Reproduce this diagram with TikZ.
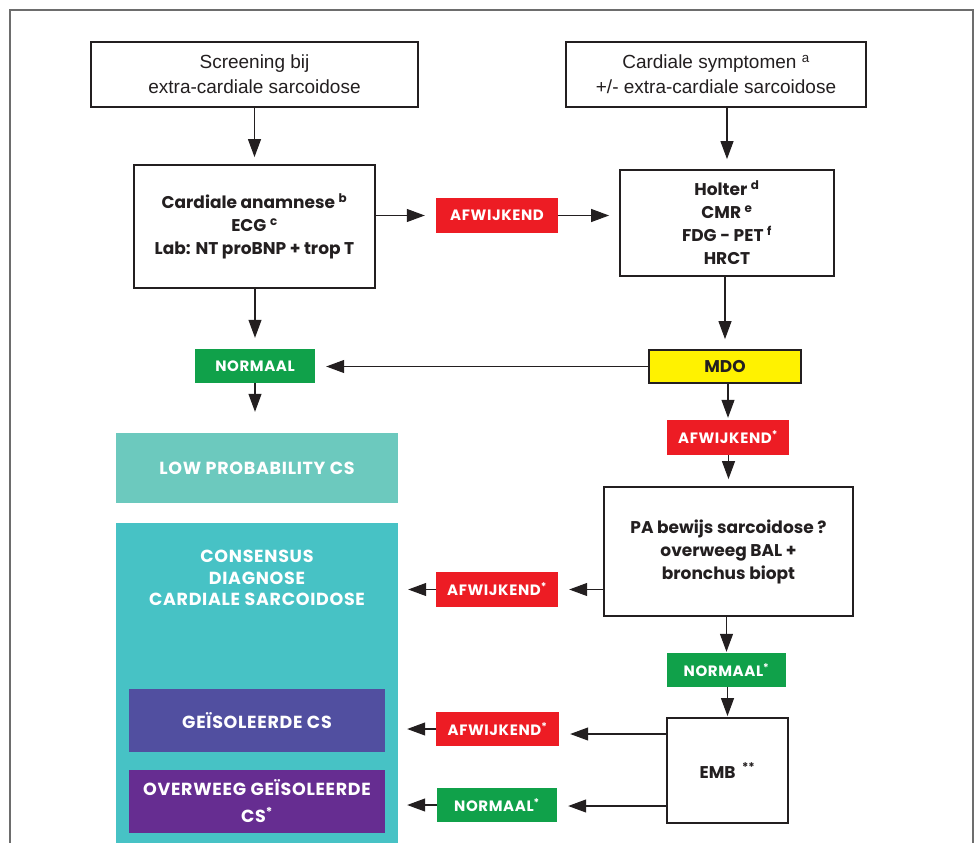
\documentclass[tikz,border=0pt]{standalone}
\usepackage{fontspec}
\setmainfont{Poppins}
\newfontfamily\condfont[FakeStretch=1.0]{Liberation Sans}
\newfontfamily\labfont[LetterSpace=4]{Poppins}
\usetikzlibrary{arrows.meta}
\definecolor{ink}{HTML}{231F20}
\definecolor{frame}{HTML}{6D6D6D}
\definecolor{lred}{HTML}{ED1C24}
\definecolor{lgreen}{HTML}{10A14A}
\definecolor{lyellow}{HTML}{FFF200}
\definecolor{lowteal}{HTML}{6CC9BE}
\definecolor{consteal}{HTML}{47C2C5}
\definecolor{geisblue}{HTML}{514FA0}
\definecolor{overpurple}{HTML}{662D91}
\tikzset{
  box/.style={draw=ink, line width=1.8pt, fill=white, align=center, inner sep=0pt, text=ink,
    font=\bfseries\fontsize{17}{23}\selectfont},
  topbox/.style={box, font=\condfont\fontsize{19}{25}\selectfont},
  tag/.style={inner sep=0pt, align=center, text=white, font=\labfont\bfseries\fontsize{15}{18}\selectfont},
  cat/.style={inner sep=0pt, align=center, text=white, font=\labfont\bfseries\fontsize{17.5}{21.5}\selectfont},
  arr/.style={draw=ink, line width=1.1pt, -{Triangle[length=18pt,width=13pt]}},
}
\begin{document}
\begin{tikzpicture}[x=1pt,y=-1pt]
\useasboundingbox (0,0) rectangle (980,843);
\draw[frame, line width=1.5pt] (10,843) -- (10,10) -- (973,10) -- (973,843);

% category boxes
\node[fill=lowteal, minimum width=282pt, minimum height=70pt, cat] (low) at (257,468) {LOW PROBABILITY CS};
\node[fill=consteal, minimum width=282pt, minimum height=320pt, inner sep=0pt] (cons) at (257,683) {};
\node[cat] (constext) at (257,578) {CONSENSUS\\DIAGNOSE\\CARDIALE SARCOIDOSE};
\node[fill=geisblue, minimum width=256pt, minimum height=63pt, cat] (geis) at (257,720.5) {GE\"ISOLEERDE CS};
\node[fill=overpurple, minimum width=256pt, minimum height=63pt, cat, font=\labfont\bfseries\fontsize{17.5}{27}\selectfont] (overw) at (257,801.5) {OVERWEEG GE\"ISOLEERDE\\CS\textsuperscript{*}};

% flow boxes
\node[topbox, minimum width=327pt, minimum height=65pt] (s1) at (254.5,74.5) {Screening bij\\extra-cardiale sarcoidose};
\node[topbox, minimum width=300pt, minimum height=65pt] (s2) at (716,74.5) {Cardiale symptomen \textsuperscript{a}\\+/- extra-cardiale sarcoidose};
\node[box, minimum width=241pt, minimum height=123pt] (anam) at (254.5,226.5) {Cardiale anamnese \textsuperscript{b}\\ECG \textsuperscript{c}\\Lab: NT proBNP + trop T};
\node[box, minimum width=214pt, minimum height=106pt] (tests) at (727,223) {Holter \textsuperscript{d}\\CMR \textsuperscript{e}\\FDG - PET \textsuperscript{f}\\HRCT};
\node[box, fill=lyellow, minimum width=152pt, minimum height=33pt] (mdo) at (725,366.5) {MDO};
\node[box, minimum width=249pt, minimum height=129pt] (pa) at (728.5,551.5) {PA bewijs sarcoidose ?\\overweeg BAL +\\bronchus biopt};
\node[box, minimum width=121pt, minimum height=105pt] (emb) at (727.5,770.5) {EMB \,\textsuperscript{**}};

% tags
\node[tag, fill=lred, minimum width=122pt, minimum height=35pt] (afw1) at (497,215.5) {AFWIJKEND};
\node[tag, fill=lgreen, minimum width=120pt, minimum height=34pt] (norm1) at (255,366) {NORMAAL};
\node[tag, fill=lred, minimum width=122pt, minimum height=35pt] (afw2) at (728,437.5) {AFWIJKEND\textsuperscript{*}};
\node[tag, fill=lred, minimum width=122pt, minimum height=35pt] (afw3) at (497,589.5) {AFWIJKEND\textsuperscript{*}};
\node[tag, fill=lgreen, minimum width=119pt, minimum height=34pt] (norm2) at (726.5,670) {NORMAAL\textsuperscript{*}};
\node[tag, fill=lred, minimum width=123pt, minimum height=34pt] (afw4) at (497.5,729) {AFWIJKEND\textsuperscript{*}};
\node[tag, fill=lgreen, minimum width=120pt, minimum height=34pt] (norm3) at (497,805) {NORMAAL\textsuperscript{*}};

% connectors
\draw[arr, shorten >=7pt] (s1.south) -- (anam.north);
\draw[arr, shorten >=10pt] (s2.south -| tests.north) -- (tests.north);
\draw[arr, shorten >=11pt] (anam.east |- afw1.west) -- (afw1.west);
\draw[arr, shorten >=10pt] (afw1.east) -- (afw1.east -| tests.west);
\draw[arr, shorten >=11pt] (anam.south -| norm1.north) -- (norm1.north);
\draw[arr, shorten >=21pt] (norm1.south) -- (norm1.south |- low.north);
\draw[arr, shorten >=10pt] (tests.south -| mdo.north) -- (mdo.north);
\draw[arr, shorten >=11pt] (mdo.west) -- (mdo.west -| norm1.east);
\draw[arr, shorten >=2pt] (mdo.south -| afw2.north) -- (afw2.north);
\draw[arr, shorten >=7pt] (afw2.south) -- (afw2.south -| pa.north) -- (pa.north);
\draw[arr, shorten >=11pt] (pa.west |- afw3.east) -- (afw3.east);
\draw[arr, shorten >=10pt] (afw3.west) -- (afw3.west -| cons.east);
\draw[arr, shorten >=1pt] (pa.south -| norm2.north) -- (norm2.north);
\draw[arr, shorten >=1pt] (norm2.south -| emb.north) -- (emb.north);
\draw[arr, shorten >=11pt] ([yshift=36.5pt]emb.west) -- ([yshift=36.5pt]emb.west -| afw4.east);
\draw[arr, shorten >=9pt] (afw4.west) -- (afw4.west -| cons.east);
\draw[arr, shorten >=11pt] ([yshift=-35.5pt]emb.west) -- ([yshift=-35.5pt]emb.west -| norm3.east);
\draw[arr, shorten >=9pt] (norm3.west) -- (norm3.west -| cons.east);
\end{tikzpicture}
\end{document}
